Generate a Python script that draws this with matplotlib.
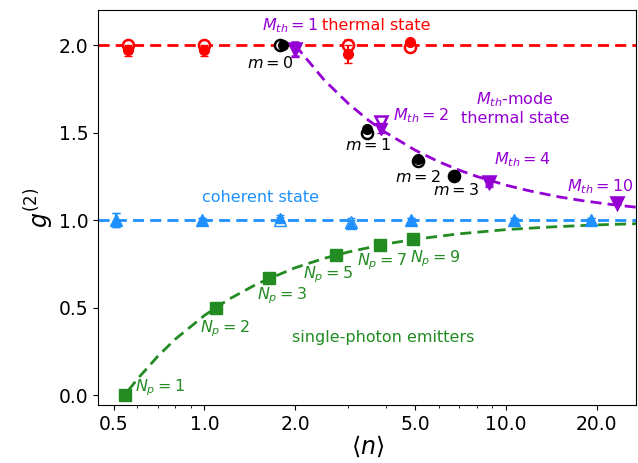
import matplotlib
matplotlib.use("Agg")
import matplotlib.pyplot as plt
from matplotlib.ticker import FixedLocator, FormatStrFormatter, NullFormatter

# coherent state (triangles up)
coh_n = [0.51, 0.98, 1.78, 3.07, 4.85, 10.6, 19.1]
coh_g = [1.00, 1.00, 1.01, 0.98, 1.00, 1.00, 1.00]
coh_err = [0.04, 0.01, 0.02, 0.02, 0.01, 0.01, 0.01]
coh_open = [1.00, 1.00, 1.00, 0.99, 1.00, 1.00, 1.00]

# thermal state, M_th = 1 (circles)
th_n = [0.56, 1.0, 3.0, 4.8]
th_g = [1.97, 1.97, 1.95, 2.02]
th_err = [0.03, 0.03, 0.05, 0.01]
th_open = [2.00, 2.00, 2.00, 1.99]
th_open_err = [0.01, 0.01, 0.03, 0.01]

# m-photon subtracted (black circles)
m_n = [1.83, 3.46, 5.11, 6.73]
m_g = [2.00, 1.52, 1.35, 1.25]
m_open_n = [1.78, 3.46, 5.11, 6.73]
m_open = [2.00, 1.50, 1.34, 1.25]
m_labels = ["$m=0$", "$m=1$", "$m=2$", "$m=3$"]

# M_th-mode thermal (triangles down)
mm_n = [2.0, 3.86, 8.78, 23.3]
mm_g = [1.97, 1.52, 1.21, 1.10]
mm_err = [0.04, 0.02, 0.02, 0.01]
mm_open = [1.98, 1.56, 1.22, 1.10]
mm_labels = ["$M_{th}=2$", "$M_{th}=4$", "$M_{th}=10$"]

# theory curve
mm_curve_n = [2.0, 2.5, 3.0, 3.5, 4.0, 5.0, 6.0, 7.0, 8.0, 10.0, 12.0, 15.0, 18.0, 22.0, 27.0]
mm_curve_g = [2.0, 1.80, 1.667, 1.571, 1.50, 1.40, 1.333, 1.286, 1.25, 1.20, 1.167, 1.133, 1.111, 1.091, 1.074]

# single-photon emitters (squares)
sp_n = [0.545, 1.09, 1.64, 2.73, 3.82, 4.91]
sp_g = [0.00, 0.50, 0.67, 0.80, 0.857, 0.89]
sp_labels = ["$N_p=1$", "$N_p=2$", "$N_p=3$", "$N_p=5$", "$N_p=7$", "$N_p=9$"]
sp_curve_n = [0.56, 0.6, 0.7, 0.8, 1.0, 1.2, 1.5, 2.0, 2.5, 3.0, 4.0, 5.0, 7.0, 10.0, 14.0, 20.0, 27.0]
sp_curve_g = [0.027, 0.092, 0.221, 0.319, 0.455, 0.546, 0.637, 0.728, 0.782, 0.818, 0.864, 0.891, 0.922, 0.946, 0.961, 0.973, 0.980]

xticks = [0.5, 1.0, 2.0, 5.0, 10.0, 20.0]

red = "#ff0000"
blue = "#1e90ff"
purple = "#9400d3"
green = "#228b22"

fig, ax = plt.subplots(figsize=(6.38, 4.63), dpi=100)
fig.subplots_adjust(left=0.154, right=0.997, bottom=0.125, top=0.978)

# reference lines
ax.axhline(2.0, color=red, ls="--", lw=2, dashes=(4, 2.2), zorder=1)
ax.axhline(1.0, color=blue, ls="--", lw=2, dashes=(4, 2.2), zorder=1)

# curves
ax.plot(mm_curve_n, mm_curve_g, color=purple, ls="--", lw=2, dashes=(4, 2.2), zorder=1)
ax.plot(sp_curve_n, sp_curve_g, color=green, ls="--", lw=2, dashes=(4, 2.2), zorder=1)

# coherent
ax.errorbar(coh_n, coh_open, yerr=coh_err, fmt="^", ms=8, mfc="white", mec=blue, ecolor=blue, capsize=3, zorder=3)
ax.errorbar(coh_n, coh_g, yerr=coh_err, fmt="^", ms=7, color=blue, capsize=3, zorder=4)

# thermal
ax.errorbar(th_n, th_open, yerr=th_open_err, fmt="o", ms=8, mfc="white", mec=red, mew=1.8, ecolor=red, capsize=3, zorder=3)
ax.errorbar(th_n, th_g, yerr=th_err, fmt="o", ms=7, color=red, capsize=3, zorder=4)

# m-subtracted
ax.plot(m_open_n, m_open, "o", ms=8, mfc="white", mec="black", mew=1.8, zorder=3)
ax.plot(m_n, m_g, "o", ms=7, color="black", zorder=4)

# multimode thermal
ax.errorbar(mm_n, mm_open, yerr=mm_err, fmt="v", ms=8, mfc="white", mec=purple, mew=1.8, ecolor=purple, capsize=3, zorder=3)
ax.errorbar(mm_n, mm_g, yerr=mm_err, fmt="v", ms=8, color=purple, capsize=3, zorder=4)

# single-photon emitters
ax.plot(sp_n, sp_g, "s", ms=8, color=green, zorder=4)

# annotations
fs = 11.5
ax.text(1.556, 2.114, "$M_{th}=1$", color=purple, fontsize=fs, va="center")
ax.text(2.46, 2.114, "thermal state", color=red, fontsize=fs, va="center")
ax.text(1.39, 1.90, m_labels[0], color="black", fontsize=fs, va="center")
m_lab_pos = [(2.93, 1.43), (4.29, 1.246), (5.74, 1.17)]
for lab, (x, y) in zip(m_labels[1:], m_lab_pos):
    ax.text(x, y, lab, color="black", fontsize=fs, va="center")
mm_lab_pos = [(4.23, 1.60), (9.13, 1.343), (15.9, 1.194)]
for lab, (x, y) in zip(mm_labels, mm_lab_pos):
    ax.text(x, y, lab, color=purple, fontsize=fs, va="center")
ax.text(10.7, 1.64, "$M_{th}$-mode\nthermal state", color=purple, fontsize=fs,
        ha="center", va="center", linespacing=1.2)
ax.text(1.53, 1.13, "coherent state", color=blue, fontsize=fs, ha="center", va="center")
sp_lab_pos = [(0.59, 0.04), (0.97, 0.377), (1.49, 0.566), (2.13, 0.686), (3.21, 0.76), (4.8, 0.777)]
for lab, (x, y) in zip(sp_labels, sp_lab_pos):
    ax.text(x, y, lab, color=green, fontsize=fs, va="center")
ax.text(3.92, 0.33, "single-photon emitters", color=green, fontsize=fs, ha="center", va="center")

# axes
ax.set_xscale("log")
ax.set_xlim(0.445, 27)
ax.set_ylim(-0.057, 2.2)
ax.xaxis.set_major_locator(FixedLocator(xticks))
ax.xaxis.set_major_formatter(FormatStrFormatter("%.1f"))
ax.xaxis.set_minor_formatter(NullFormatter())
ax.set_yticks([0.0, 0.5, 1.0, 1.5, 2.0])
ax.tick_params(labelsize=13.5)
ax.set_xlabel(r"$\langle n \rangle$", fontsize=17, labelpad=0)
ax.set_ylabel(r"$g^{(2)}$", fontsize=17, labelpad=2)

fig.savefig("out.png", dpi=100)
